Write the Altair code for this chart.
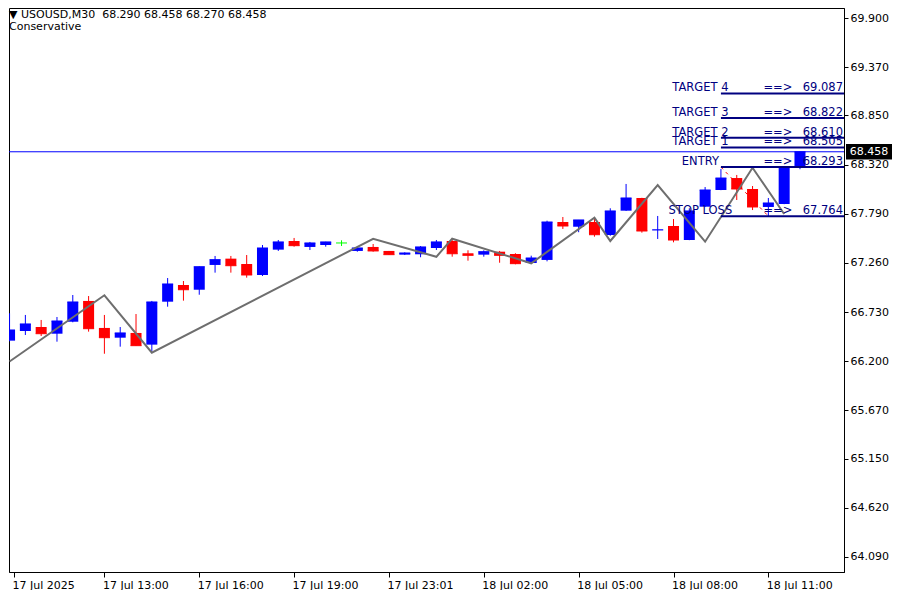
import altair as alt
import pandas as pd

# ---------------- data ----------------
symbol = "USOUSD,M30"
subtitle = "Conservative"

opens = [66.422, 66.526, 66.569, 66.497, 66.626, 66.850, 66.559, 66.454, 66.505, 66.379,
         66.842, 67.022, 66.971, 67.238, 67.306, 67.248, 67.130, 67.403, 67.496, 67.432,
         67.453, 67.475, 67.389, 67.432, 67.389, 67.349, 67.353, 67.421, 67.496, 67.364,
         67.349, 67.381, 67.356, 67.259, 67.292, 67.701, 67.650, 67.701, 67.561, 67.823,
         67.960, 67.612, 67.658, 67.507, 67.866, 68.046, 68.175, 68.057, 67.863, 67.895,
         68.290]
highs = [66.717, 66.699, 66.645, 66.677, 66.914, 66.903, 66.699, 66.569, 66.709, 66.850,
         67.097, 67.065, 67.222, 67.335, 67.335, 67.345, 67.453, 67.507, 67.529, 67.486,
         67.488, 67.504, 67.432, 67.464, 67.389, 67.374, 67.442, 67.507, 67.525, 67.396,
         67.396, 67.389, 67.364, 67.338, 67.715, 67.755, 67.723, 67.747, 67.849, 68.111,
         67.962, 67.766, 67.733, 67.849, 68.078, 68.272, 68.208, 68.089, 67.960, 68.294,
         68.458]
lows = [66.415, 66.483, 66.472, 66.411, 66.620, 66.519, 66.281, 66.357, 66.365, 66.303,
        66.788, 66.853, 66.917, 67.155, 67.155, 67.101, 67.119, 67.389, 67.435, 67.399,
        67.435, 67.442, 67.381, 67.381, 67.347, 67.345, 67.321, 67.399, 67.327, 67.284,
        67.327, 67.262, 67.245, 67.256, 67.277, 67.626, 67.591, 67.543, 67.553, 67.820,
        67.586, 67.518, 67.482, 67.505, 67.864, 68.044, 67.938, 67.830, 67.766, 67.893,
        68.270]
closes = [66.537, 66.602, 66.497, 66.634, 66.839, 66.551, 66.454, 66.505, 66.368, 66.839,
          67.033, 66.971, 67.219, 67.295, 67.230, 67.130, 67.421, 67.486, 67.446, 67.475,
          67.486, 67.475, 67.421, 67.389, 67.349, 67.367, 67.432, 67.486, 67.359, 67.342,
          67.381, 67.342, 67.252, 67.313, 67.701, 67.658, 67.723, 67.564, 67.820, 67.960,
          67.604, 67.617, 67.507, 67.820, 68.046, 68.175, 68.057, 67.863, 67.906, 68.290,
          68.458]

zigzag_idx = [0, 6, 9, 23, 27, 28, 33, 37, 38, 41, 44, 47, 49]
zigzag_val = [66.197, 66.911, 66.292, 67.520, 67.326, 67.521, 67.256, 67.747, 67.496,
              68.100, 67.489, 68.286, 67.787]

trade_idx = [45, 48]
trade_val = [68.293, 67.764]

level_names = ["TARGET 4", "TARGET 3", "TARGET 2", "TARGET 1", "ENTRY", "STOP LOSS"]
level_values = [69.087, 68.822, 68.610, 68.505, 68.293, 67.764]
level_start = 45

y_ticks = [69.900, 69.370, 68.850, 68.320, 67.790, 67.260, 66.730, 66.200,
           65.670, 65.150, 64.620, 64.090]
x_tick_idx = [0, 6, 12, 18, 24, 30, 36, 42, 48]
x_tick_labels = ["17 Jul 2025", "17 Jul 13:00", "17 Jul 16:00", "17 Jul 19:00",
                 "17 Jul 23:01", "18 Jul 02:00", "18 Jul 05:00", "18 Jul 08:00",
                 "18 Jul 11:00"]

# ---------------- layout ----------------
W, H = 835, 564
PX_PER_BAR = 16.0
X0 = 0.28125
X1 = X0 + W / PX_PER_BAR
PX_PER_UNIT = 92.77
Y1 = 69.9 + 10 / PX_PER_UNIT
Y0 = 69.9 - (H - 10) / PX_PER_UNIT
FONT = "DejaVu Sans"
NBSP = "\u00a0"

def direction(o, c):
    if c > o:
        return "up"
    if c < o:
        return "down"
    return "flat"

candles = pd.DataFrame({
    "i": list(range(len(opens))),
    "open": opens, "high": highs, "low": lows, "close": closes,
})
candles["dir"] = [direction(o, c) for o, c in zip(opens, closes)]

zz = pd.DataFrame({"i": zigzag_idx, "v": zigzag_val})
trade = pd.DataFrame({"i": trade_idx, "v": trade_val})
levels = pd.DataFrame({"name": level_names, "level": level_values,
                       "start": [level_start] * len(level_names)})
last = pd.DataFrame({"price": [closes[-1]]})
header = pd.DataFrame({"t": ["\u25bc" + NBSP + symbol + NBSP * 2 + NBSP.join(
    f"{v:.3f}" for v in (opens[-1], highs[-1], lows[-1], closes[-1]))]})
header2 = pd.DataFrame({"t": [subtitle]})

xscale = alt.Scale(domain=[X0, X1], nice=False, zero=False)
yscale = alt.Scale(domain=[Y0, Y1], nice=False, zero=False)

label_expr = "[" + ",".join(f"'{s}'" for s in x_tick_labels) + "][round(datum.value/6)]"
x_axis = alt.Axis(values=[X0] + x_tick_idx[1:], labelExpr=label_expr, labelAlign="left",
                  labelOffset=-2, tickSize=5, labelPadding=2, labelFlush=False,
                  labelOverlap=False, title=None, grid=False)
y_axis = alt.Axis(orient="right", values=y_ticks, format=".3f", tickSize=4,
                  labelPadding=2, title=None, grid=False, labelFlush=False,
                  labelOverlap=False)


def X(field):
    return alt.X(field, type="quantitative", scale=xscale, axis=x_axis, title=None)


def Y(field):
    return alt.Y(field, type="quantitative", scale=yscale, axis=y_axis, title=None)


color = alt.Color("dir:N", scale=alt.Scale(domain=["up", "down", "flat"],
                                           range=["#0000ff", "#ff0000", "#00ff00"]),
                  legend=None)

trade_line = alt.Chart(trade).mark_line(color="#ff0000", strokeWidth=1,
                                        strokeDash=[3, 4], clip=True).encode(
    x=X("i"), y=Y("v"))

base = alt.Chart(candles)
wicks = base.mark_rule(strokeWidth=1, clip=True).encode(
    x=X("i"), y=Y("low"), y2="high", color=color)
bodies = base.mark_bar(size=11, clip=True).encode(
    x=X("i"), y=Y("open"), y2="close", color=color)
flats = base.mark_tick(orient="horizontal", size=11, thickness=1, clip=True,
                       opacity=1).encode(x=X("i"), y=Y("close"), color=color)

zigzag = alt.Chart(zz).mark_line(color="#6e6e6e", strokeWidth=2, clip=True).encode(
    x=X("i"), y=Y("v"))

bid = alt.Chart(last).mark_rule(color="#0000ff", strokeWidth=1).encode(y=Y("price"))

lv = alt.Chart(levels)
level_lines = lv.mark_rule(color="#000080", strokeWidth=2).encode(
    x=X("start"), x2=alt.value(W), y=Y("level"))
level_names_t = lv.transform_calculate(lx="datum.start - 1.3").mark_text(
    align="center", baseline="alphabetic", dy=-2, font=FONT, fontSize=11.5,
    color="#000080").encode(x=X("lx"), y=Y("level"), text="name:N")
level_arrows = lv.transform_calculate(ax="datum.start + 3.6", arrow="'==>'").mark_text(
    align="center", baseline="alphabetic", dy=-2, font=FONT, fontSize=11.5,
    color="#000080").encode(x=X("ax"), y=Y("level"), text="arrow:N")
level_vals = lv.mark_text(
    align="right", baseline="alphabetic", dy=-2, font=FONT, fontSize=11.5,
    color="#000080").encode(x=alt.value(W - 1), y=Y("level"),
                            text=alt.Text("level:Q", format=".3f"))

tag_box = alt.Chart(last).mark_point(
    shape="M-1,-0.333H1V0.333H-1Z", size=46 * 46, filled=True, color="black",
    opacity=1).encode(x=alt.value(W + 25), y=Y("price"))
tag_text = alt.Chart(last).mark_text(
    align="center", baseline="middle", font=FONT, fontSize=11, color="white").encode(
    x=alt.value(W + 25), y=Y("price"), text=alt.Text("price:Q", format=".3f"))

head1 = alt.Chart(header).mark_text(align="left", baseline="alphabetic", font=FONT,
                                    fontSize=11, color="black").encode(
    x=alt.value(0), y=alt.value(9.5), text="t:N")
head2 = alt.Chart(header2).mark_text(align="left", baseline="alphabetic", font=FONT,
                                     fontSize=11, color="black").encode(
    x=alt.value(0), y=alt.value(21.5), text="t:N")

chart = alt.layer(
    trade_line, wicks, bodies, flats, zigzag, bid, level_lines, level_names_t,
    level_arrows, level_vals, tag_box, tag_text, head1, head2,
).properties(width=W, height=H, padding=0, background="white").configure_axis(
    labelFont=FONT, labelFontSize=11, labelColor="black", tickColor="black",
    domainColor="black", domainWidth=1, tickWidth=1,
).configure_view(stroke="black", strokeWidth=1)

chart.save("out.html", embed_options={"renderer": "svg", "actions": False})
